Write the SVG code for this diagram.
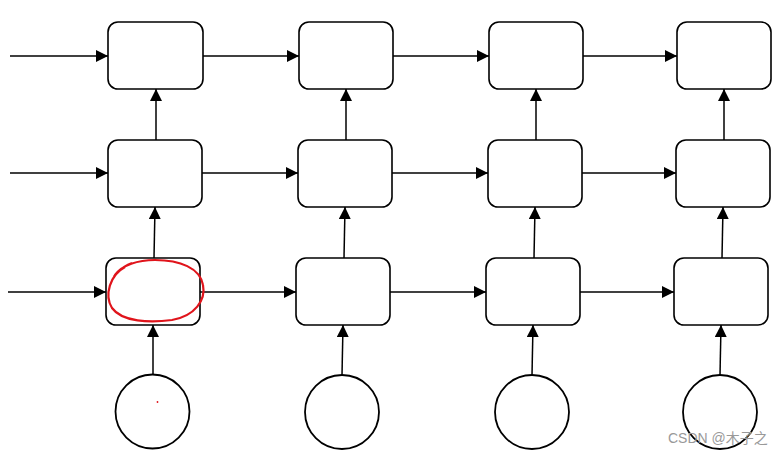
<svg xmlns="http://www.w3.org/2000/svg" width="783" height="452" viewBox="0 0 783 452">
<style>
.box{fill:#fff;stroke:#000;stroke-width:1.6}
.c{fill:#fff;stroke:#000;stroke-width:1.8}
.e{stroke:#000;stroke-width:1.5;fill:none;marker-end:url(#ah)}
</style>
<defs>
<marker id="ah" markerWidth="12" markerHeight="12" refX="12" refY="6" orient="auto" markerUnits="userSpaceOnUse">
<path d="M0,0 L12,6 L0,12 Z" fill="#000"/>
</marker>
</defs>
<rect width="783" height="452" fill="#fff"/>
<g id="connectors">
<line class="e" x1="10" y1="56" x2="108" y2="56"/>
<line class="e" x1="203" y1="56" x2="299" y2="56"/>
<line class="e" x1="393" y1="56" x2="489" y2="56"/>
<line class="e" x1="583" y1="56" x2="677" y2="56"/>
<line class="e" x1="10" y1="173" x2="108" y2="173"/>
<line class="e" x1="202" y1="173" x2="298" y2="173"/>
<line class="e" x1="392" y1="173" x2="488" y2="173"/>
<line class="e" x1="582" y1="173" x2="676" y2="173"/>
<line class="e" x1="8" y1="292" x2="106" y2="292"/>
<line class="e" x1="200" y1="292" x2="296" y2="292"/>
<line class="e" x1="390" y1="292" x2="486" y2="292"/>
<line class="e" x1="580" y1="292" x2="674" y2="292"/>
<line class="e" x1="153" y1="374" x2="153" y2="325"/>
<line class="e" x1="154" y1="258" x2="155" y2="207"/>
<line class="e" x1="156" y1="140" x2="156" y2="89"/>
<line class="e" x1="342" y1="375" x2="343" y2="325"/>
<line class="e" x1="344" y1="258" x2="345" y2="207"/>
<line class="e" x1="346" y1="140" x2="346" y2="89"/>
<line class="e" x1="532" y1="375" x2="533" y2="325"/>
<line class="e" x1="534" y1="258" x2="535" y2="207"/>
<line class="e" x1="536" y1="140" x2="536" y2="89"/>
<line class="e" x1="720" y1="375" x2="721" y2="325"/>
<line class="e" x1="722" y1="258" x2="723" y2="207"/>
<line class="e" x1="724" y1="140" x2="724" y2="89"/>
</g>
<g id="n11"><rect class="box" x="108" y="22" width="95" height="67" rx="10"/></g>
<g id="n12"><rect class="box" x="299" y="22" width="94" height="67" rx="10"/></g>
<g id="n13"><rect class="box" x="489" y="22" width="94" height="67" rx="10"/></g>
<g id="n14"><rect class="box" x="677" y="22" width="94" height="67" rx="10"/></g>
<g id="n21"><rect class="box" x="108" y="140" width="94" height="67" rx="10"/></g>
<g id="n22"><rect class="box" x="298" y="140" width="94" height="67" rx="10"/></g>
<g id="n23"><rect class="box" x="488" y="140" width="94" height="67" rx="10"/></g>
<g id="n24"><rect class="box" x="676" y="140" width="94" height="67" rx="10"/></g>
<g id="n31"><rect class="box" x="106" y="258" width="94" height="67" rx="10"/></g>
<g id="n32"><rect class="box" x="296" y="258" width="94" height="67" rx="10"/></g>
<g id="n33"><rect class="box" x="486" y="258" width="94" height="67" rx="10"/></g>
<g id="n34"><rect class="box" x="674" y="258" width="94" height="67" rx="10"/></g>
<g id="x1"><circle class="c" cx="152.5" cy="411.5" r="37"/></g>
<g id="x2"><circle class="c" cx="342" cy="412" r="37"/></g>
<g id="x3"><circle class="c" cx="532" cy="412" r="37"/></g>
<g id="x4"><circle class="c" cx="720" cy="412" r="37"/></g>
<g id="mark">
<path d="M125,267 C110,275 104,295 112,308 C122,322 150,323 172,320 C195,316 206,300 203,285 C200,268 180,260 155,260 C138,260 122,265 115,275 C112,280 118,268 132,263" fill="none" stroke="#e0141b" stroke-width="2.2"/>
<circle cx="157.5" cy="402" r="0.9" fill="#e0141b"/>
</g>
<text x="668" y="443" font-family="Liberation Sans, Noto Sans CJK SC, sans-serif" font-size="14" fill="#999">CSDN @木子之</text>
</svg>
